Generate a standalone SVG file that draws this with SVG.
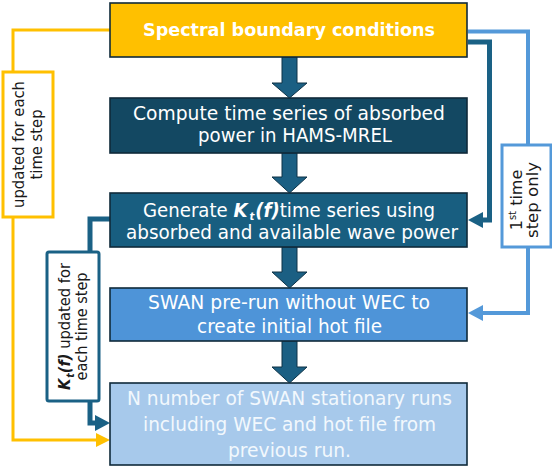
<svg xmlns="http://www.w3.org/2000/svg" width="552" height="470" viewBox="0 0 552 470">
<style>
.box{stroke:#0f2a3a;stroke-width:1.6}
.t{font-family:"DejaVu Sans","Liberation Sans",sans-serif;font-size:19.5px;fill:#ffffff;text-anchor:middle}
.tb{font-family:"DejaVu Sans","Liberation Sans",sans-serif;font-size:18px;font-weight:bold;fill:#ffffff;text-anchor:middle}
.lbl{font-family:"DejaVu Sans","Liberation Sans",sans-serif;font-size:16px;fill:#1a1a1a;text-anchor:middle}
.blk{fill:#1b5f83;stroke:#0e3347;stroke-width:1}
.ky{fill:none;stroke:#ffc000;stroke-width:3}
.kd{fill:none;stroke:#1a6185;stroke-width:5}
.kb{fill:none;stroke:#5499d9;stroke-width:4}
.bi{font-weight:bold;font-style:italic}
</style>
<g id="connectors">
  <path class="ky" d="M110,30 H13 V440 H98"/>
  <polygon points="110,440 96,433 96,447" fill="#ffc000"/>
  <path class="kd" d="M110,219 H90 V423 H97"/>
  <polygon points="110,423 95,415 95,431" fill="#1a6185"/>
  <path class="kd" d="M468,42 H489.5 V220 H482"/>
  <polygon points="468,220 483,212 483,228" fill="#1a6185"/>
  <path class="kb" d="M468,31.5 H528 V313 H482"/>
  <polygon points="468,313 483,305 483,321" fill="#5499d9"/>
  <polygon class="blk" points="282,57 297,57 297,83 307,83 289.5,98 272,83 282,83"/>
  <polygon class="blk" points="282,153 297,153 297,177 307,177 289.5,193 272,177 282,177"/>
  <polygon class="blk" points="282,247 297,247 297,272 307,272 289.5,288 272,272 282,272"/>
  <polygon class="blk" points="282,341 297,341 297,367 307,367 289.5,383 272,367 282,367"/>
</g>
<g id="label-yellow">
  <rect x="3" y="72" width="50" height="145" fill="#ffffff" stroke="#ffc000" stroke-width="3"/>
  <g transform="translate(27.5,144.5) rotate(-90)">
    <text class="lbl" x="0" y="-3.5" textLength="127" lengthAdjust="spacingAndGlyphs">updated for each</text>
    <text class="lbl" x="0" y="14.5" textLength="70" lengthAdjust="spacingAndGlyphs">time step</text>
  </g>
</g>
<g id="label-kt">
  <rect x="47" y="252" width="52" height="149" rx="2" fill="#ffffff" stroke="#1a6185" stroke-width="3"/>
  <g transform="translate(73,326.5) rotate(-90)">
    <text class="lbl" x="0" y="-3" textLength="127" lengthAdjust="spacingAndGlyphs"><tspan class="bi">K</tspan><tspan class="bi" font-size="10" dx="1" dy="4">t</tspan><tspan class="bi" dy="-4">(f)</tspan> updated for</text>
    <text class="lbl" x="0" y="14" textLength="108" lengthAdjust="spacingAndGlyphs">each time step</text>
  </g>
</g>
<g id="label-blue">
  <rect x="502" y="145" width="49" height="102" fill="#ffffff" stroke="#5499d9" stroke-width="3"/>
  <g transform="translate(526.5,200) rotate(-90)">
    <text class="lbl" x="0" y="-4.5" font-size="15">1<tspan font-size="10" dy="-6">st</tspan><tspan dy="6"> time</tspan></text>
    <text class="lbl" x="0" y="11.5" font-size="15" textLength="76" lengthAdjust="spacingAndGlyphs">step only</text>
  </g>
</g>
<g id="node-spectral">
  <rect class="box" x="110" y="3" width="357" height="54" fill="#ffc000"/>
  <text class="tb" x="289" y="36" textLength="292" lengthAdjust="spacingAndGlyphs">Spectral boundary conditions</text>
</g>
<g id="node-compute">
  <rect class="box" x="110" y="98" width="357" height="55" fill="#134862"/>
  <text class="t" x="289" y="120" textLength="312" lengthAdjust="spacingAndGlyphs">Compute time series of absorbed</text>
  <text class="t" x="295" y="142" textLength="194" lengthAdjust="spacingAndGlyphs">power in HAMS-MREL</text>
</g>
<g id="node-generate">
  <rect class="box" x="110" y="193" width="357" height="54" fill="#185e80"/>
  <text class="t" x="289" y="217" textLength="292" lengthAdjust="spacingAndGlyphs">Generate <tspan class="bi">K</tspan><tspan class="bi" font-size="11" dx="2" dy="3">t</tspan><tspan class="bi" dx="1" dy="-3">(f)</tspan>time series using</text>
  <text class="t" x="292" y="239" textLength="332" lengthAdjust="spacingAndGlyphs">absorbed and available wave power</text>
</g>
<g id="node-prerun">
  <rect class="box" x="110" y="288" width="357" height="53" fill="#4e94d8"/>
  <text class="t" x="289" y="309" textLength="282" lengthAdjust="spacingAndGlyphs">SWAN pre-run without WEC to</text>
  <text class="t" x="289.5" y="333" textLength="185" lengthAdjust="spacingAndGlyphs">create initial hot file</text>
</g>
<g id="node-stationary">
  <rect class="box" x="110" y="383" width="357" height="82" fill="#a7c9eb"/>
  <text class="t" x="289.5" y="405" style="fill:#f2f8fd" textLength="325" lengthAdjust="spacingAndGlyphs">N number of SWAN stationary runs</text>
  <text class="t" x="289.5" y="431" style="fill:#f2f8fd" textLength="293" lengthAdjust="spacingAndGlyphs">including WEC and hot file from</text>
  <text class="t" x="289.5" y="457" style="fill:#f2f8fd" textLength="123" lengthAdjust="spacingAndGlyphs">previous run.</text>
</g>
</svg>
